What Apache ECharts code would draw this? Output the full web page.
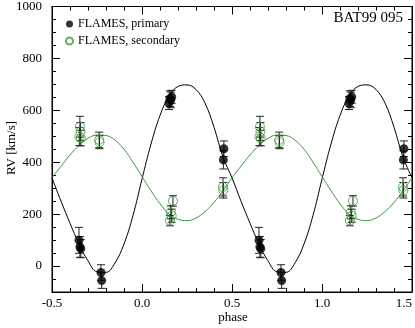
<!DOCTYPE html>
<html><head><meta charset="utf-8">
<script src="https://cdn.jsdelivr.net/npm/echarts@6/dist/echarts.min.js"></script>
<style>html,body{margin:0;padding:0;background:#fff}#c{width:415px;height:328px}</style>
</head><body><div id="c"></div>
<script>
// ---- data ----
const primaryPhase = [-0.350, -0.345, -0.340, -0.228, -0.224, 0.150, 0.155, 0.160, 0.165, 0.452, 0.455,
                       0.650,  0.655,  0.660,  0.772,  0.776, 1.150, 1.155, 1.160, 1.165, 1.452, 1.455];
const primaryRV    = [99, 74, 67, -25, -56, 628, 645, 640, 652, 409, 452,
                      99, 74, 67, -25, -56, 628, 645, 640, 652, 409, 452];
const primaryErr   = [50, 40, 35, 30, 30, 25, 30, 30, 25, 35, 30,
                      50, 40, 35, 30, 30, 25, 30, 30, 25, 35, 30];

const secondaryPhase = [-0.345, -0.342, -0.348, -0.340, -0.238, -0.236, 0.172, 0.160, 0.165, 0.155, 0.450, 0.452,
                         0.655,  0.658,  0.652,  0.660,  0.762,  0.764, 1.172, 1.160, 1.165, 1.155, 1.450, 1.452];
const secondaryRV    = [537, 518, 499, 493, 486, 477, 251, 207, 194, 175, 305, 292,
                        537, 518, 499, 493, 486, 477, 251, 207, 194, 175, 305, 292];
const secondaryErr   = [40, 35, 35, 30, 30, 25, 20, 25, 25, 20, 35, 30,
                        40, 35, 35, 30, 30, 25, 20, 25, 25, 20, 35, 30];

const curvePhase = [-0.50,-0.45,-0.40,-0.35,-0.30,-0.25,-0.20,-0.15,-0.10,-0.05,
                     0.00, 0.05, 0.10, 0.15, 0.20, 0.25, 0.30, 0.35, 0.40, 0.45,
                     0.50, 0.55, 0.60, 0.65, 0.70, 0.75, 0.80, 0.85, 0.90, 0.95,
                     1.00, 1.05, 1.10, 1.15, 1.20, 1.25, 1.30, 1.35, 1.40, 1.45, 1.50];
const primaryCurve = [340, 250, 165, 85, 20, -22, -24, 12, 85, 195,
                      335, 470, 580, 655, 692, 698, 680, 628, 535, 420,
                      340, 250, 165, 85, 20, -22, -24, 12, 85, 195,
                      335, 470, 580, 655, 692, 698, 680, 628, 535, 420, 340];
const secondaryCurve = [340, 385, 428, 465, 492, 505, 503, 485, 450, 400,
                        345, 290, 240, 200, 180, 175, 185, 210, 245, 290,
                        340, 385, 428, 465, 492, 505, 503, 485, 450, 400,
                        345, 290, 240, 200, 180, 175, 185, 210, 245, 290, 340];

const yMajor = [0, 200, 400, 600, 800, 1000];
const FONT = 'Liberation Serif';
const GREEN = '#3a9a3a';

function zip(a, b) { return a.map((v, i) => [v, b[i]]); }
function errData(ph, rv, er) { return ph.map((p, i) => [p, rv[i] - er[i], rv[i] + er[i]]); }

function errRender(params, api) {
  const x = api.value(0), lo = api.value(1), hi = api.value(2);
  const a = api.coord([x, hi]), b = api.coord([x, lo]);
  const w = 4, st = {stroke: '#222', lineWidth: 1};
  return {type: 'group', children: [
    {type: 'line', shape: {x1: a[0], y1: a[1], x2: b[0], y2: b[1]}, style: st},
    {type: 'line', shape: {x1: a[0] - w, y1: a[1], x2: a[0] + w, y2: a[1]}, style: st},
    {type: 'line', shape: {x1: b[0] - w, y1: b[1], x2: b[0] + w, y2: b[1]}, style: st}
  ]};
}

function axLine() { return {show: true, onZero: false, lineStyle: {color: '#000', width: 1}}; }
function xAx(pos, labels) {
  return {
    type: 'value', position: pos, min: -0.5, max: 1.5, interval: 0.5,
    axisLine: axLine(),
    axisTick: {show: true, inside: true, length: 8, lineStyle: {color: '#000', width: 1}},
    minorTick: {show: true, splitNumber: 5, length: 4, lineStyle: {color: '#000', width: 1}},
    splitLine: {show: false}, minorSplitLine: {show: false},
    axisLabel: labels ? {show: true, formatter: v => v.toFixed(1), fontFamily: FONT, fontSize: 13, color: '#000', margin: 5, alignMaxLabel: 'right'} : {show: false}
  };
}
function yMinor(pos, labels) {
  return {
    type: 'value', position: pos, min: -100, max: 1000, interval: 50,
    axisLine: axLine(),
    axisTick: {show: true, inside: true, length: 4, lineStyle: {color: '#000', width: 1}},
    splitLine: {show: false},
    axisLabel: labels ? {show: true, formatter: v => (v % 200 === 0 ? String(v) : ''), fontFamily: FONT, fontSize: 13, color: '#000', margin: 10} : {show: false}
  };
}
function yMajorAx(pos) {
  return {
    type: 'value', position: pos, min: -100, max: 1000,
    axisLine: {show: false, onZero: false},
    axisTick: {show: true, inside: true, length: 8, customValues: yMajor, lineStyle: {color: '#000', width: 1}},
    splitLine: {show: false},
    axisLabel: {show: false}
  };
}

const chart = echarts.init(document.getElementById('c'));
chart.setOption({
  animation: false,
  backgroundColor: '#fff',
  grid: {left: 52, right: 1, top: 4, bottom: 36,
         show: true, borderColor: '#000', borderWidth: 1, backgroundColor: 'rgba(0,0,0,0)'},
  xAxis: [xAx('bottom', true), xAx('top', false)],
  yAxis: [yMinor('left', true), yMinor('right', false), yMajorAx('left'), yMajorAx('right')],
  legend: {
    show: true, orient: 'vertical', left: 60, top: 13, itemWidth: 7, itemHeight: 7, itemGap: 5,
    textStyle: {fontFamily: FONT, fontSize: 12, color: '#000'},
    data: [{name: 'FLAMES, primary', icon: 'circle'}, {name: 'FLAMES, secondary', icon: 'circle'}]
  },
  graphic: [
    {type: 'text', right: 12, top: 11, style: {text: 'BAT99 095', font: '15px "Liberation Serif"', fill: '#000'}},
    {type: 'text', x: 233, y: 318, style: {text: 'phase', font: '13px "Liberation Serif"', fill: '#000', align: 'center', verticalAlign: 'middle'}},
    {type: 'text', x: 12, y: 148, rotation: Math.PI / 2, style: {text: 'RV [km/s]', font: '13px "Liberation Serif"', fill: '#000', align: 'center', verticalAlign: 'middle'}}
  ],
  series: [
    {type: 'line', name: 'curveP', data: zip(curvePhase, primaryCurve), smooth: 0.4, symbol: 'none',
     lineStyle: {color: '#000', width: 1}, z: 1},
    {type: 'line', name: 'curveS', data: zip(curvePhase, secondaryCurve), smooth: 0.4, symbol: 'none',
     lineStyle: {color: GREEN, width: 1}, z: 1},
    {type: 'custom', name: 'errP', renderItem: errRender, data: errData(primaryPhase, primaryRV, primaryErr),
     encode: {x: 0, y: [1, 2]}, z: 2},
    {type: 'custom', name: 'errS', renderItem: errRender, data: errData(secondaryPhase, secondaryRV, secondaryErr),
     encode: {x: 0, y: [1, 2]}, z: 2},
    {type: 'scatter', name: 'FLAMES, primary', data: zip(primaryPhase, primaryRV), symbol: 'circle', symbolSize: 9,
     itemStyle: {color: '#000'}, z: 4},
    {type: 'scatter', name: 'FLAMES, secondary', data: zip(secondaryPhase, secondaryRV), symbol: 'circle', symbolSize: 9,
     itemStyle: {color: 'rgba(0,0,0,0)', borderColor: GREEN, borderWidth: 1}, z: 3}
  ]
});
</script></body></html>
